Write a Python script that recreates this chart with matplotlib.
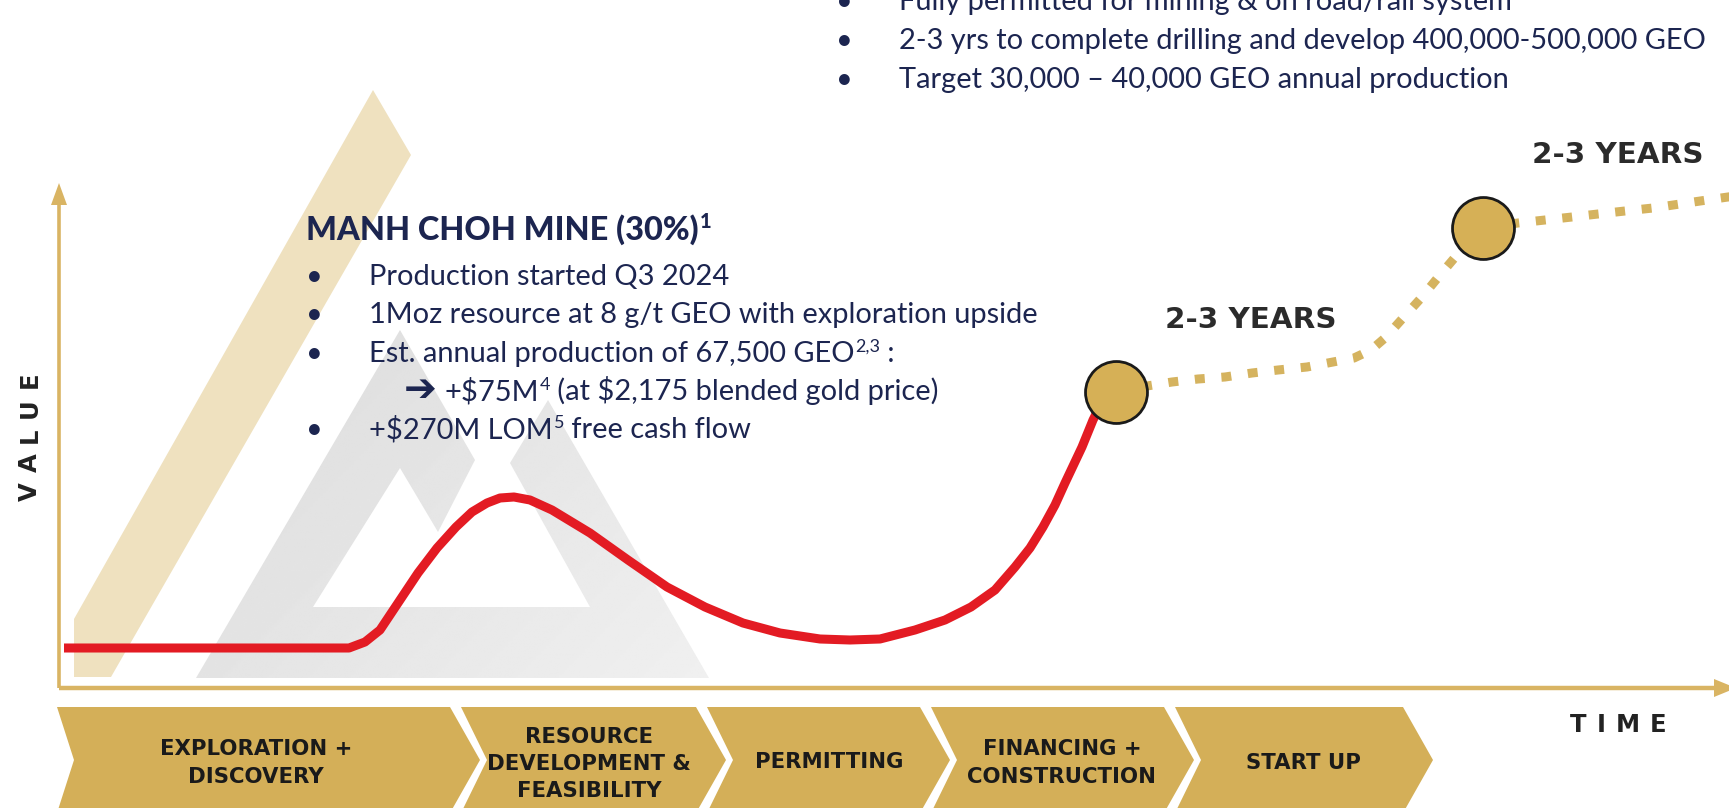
import matplotlib
matplotlib.use("Agg")
import matplotlib.pyplot as plt
import numpy as np
from matplotlib.patches import Polygon
from matplotlib.transforms import IdentityTransform

W, H, DPI = 1729, 808, 100

# ---------------- data (time / value units) ----------------
curve_time = [0.5, 29.0, 30.6, 32.1, 34.1, 35.9, 37.8, 39.7, 41.3, 42.8, 44.1, 45.5,
              47.1, 49.3, 53.1, 56.9, 60.8, 64.6, 68.4, 72.1, 76.1, 79.1, 82.1, 85.6,
              88.6, 91.2, 93.6, 95.6, 97.1, 98.4, 99.6, 100.6, 102.3, 103.4, 104.5]
curve_value = [4.0, 4.0, 4.6, 5.8, 8.8, 11.5, 14.0, 16.1, 17.6, 18.5, 19.0, 19.1,
               18.8, 17.8, 15.5, 12.8, 10.1, 8.1, 6.5, 5.5, 4.9, 4.8, 4.9, 5.8,
               6.8, 8.1, 9.8, 12.1, 14.0, 16.1, 18.3, 20.5, 24.1, 26.8, 29.0]

milestone_time = [105.7, 142.4]
milestone_value = [29.6, 46.0]

path1_time = [105.7, 108.8, 111.3, 113.9, 116.6, 119.3, 121.9, 124.8, 127.4, 129.5,
              131.2, 132.6, 134.4, 136.3, 138.1, 139.8, 142.4]
path1_value = [29.6, 30.2, 30.6, 30.9, 31.1, 31.5, 31.8, 32.1, 32.6, 33.0,
               33.8, 35.0, 37.0, 39.1, 41.3, 43.3, 46.0]
path2_time = [142.4, 145.9, 148.6, 151.3, 153.9, 156.6, 159.4, 162.1, 164.8, 167.6]
path2_value = [46.0, 46.5, 46.8, 47.1, 47.4, 47.7, 48.0, 48.4, 48.8, 49.2]

milestone_labels = ["2-3 YEARS", "2-3 YEARS"]

stage_labels = [["EXPLORATION +", "DISCOVERY"],
                ["RESOURCE", "DEVELOPMENT &", "FEASIBILITY"],
                ["PERMITTING"],
                ["FINANCING +", "CONSTRUCTION"],
                ["START UP"]]

top_bullets = ["Fully permitted for mining & on road/rail system",
               "2-3 yrs to complete drilling and develop 400,000-500,000 GEO",
               "Target 30,000 \u2013 40,000 GEO annual production"]

mine_title = "MANH CHOH MINE (30%)"

# ---------------- styles ----------------
NAVY = "#1C2550"
GOLD = "#D4AF58"
AXC = "#D9B463"
CAL = ["Liberation Sans Narrow", "Lato", "DejaVu Sans"]
GEO = ["DejaVu Sans"]

fig = plt.figure(figsize=(W / DPI, H / DPI), dpi=DPI)
fig.patch.set_facecolor("white")
ax = fig.add_axes([0, 0, 1, 1])
ax.set_xlim(-5.9, 167.0)
ax.set_ylim(-12.0, 68.8)
ax.axis("off")
renderer = fig.canvas.get_renderer()


def P(px, py):
    return ((px - 59) / 10.0, (688 - py) / 10.0)


def poly(pts, **kw):
    p = Polygon([P(*q) for q in pts], closed=True, **kw)
    ax.add_patch(p)
    return p


def txt(px, py, s, size, **kw):
    kw.setdefault("parse_math", False)
    return fig.text(px, H - py, s, fontsize=size, transform=IdentityTransform(), **kw)


def width_of(s, size, **kw):
    t = txt(0, 0, s, size, **kw)
    w = t.get_window_extent(renderer).width
    t.remove()
    return w


def fit(s, target, size0=20.0, **kw):
    return size0 * target / width_of(s, size0, **kw)


def runs(px, py, parts, size, **kw):
    x = px
    for s, sup in parts:
        if sup:
            t = txt(x + 1, py - size * DPI / 72 * 0.36, s, size * 0.62, va="baseline", **kw)
        else:
            t = txt(x, py, s, size, va="baseline", **kw)
        x = t.get_window_extent(renderer).x1
    return x


def tracked(cx, cy, s, size, gap, vertical=False, **kw):
    widths = [width_of(c, size, **kw) for c in s]
    total = sum(widths) + gap * (len(s) - 1)
    pos = -total / 2
    for c, w in zip(s, widths):
        centre = pos + w / 2
        if vertical:
            txt(cx, cy - centre, c, size, rotation=90, rotation_mode="anchor",
                ha="center", va="baseline", **kw)
        else:
            txt(cx + centre, cy, c, size, ha="center", va="baseline", **kw)
        pos += w + gap


# ---------------- background shapes ----------------
poly([(74, 677), (111, 677), (411, 155), (373, 90), (74, 619)],
     facecolor="#EFE1BF", edgecolor="none", zorder=1)
logo = poly([(196, 678), (400, 330), (475, 460), (438, 532), (400, 468), (313, 607),
             (590, 607), (510, 463), (548, 400), (709, 678)],
            facecolor="none", edgecolor="none", zorder=1)
gx = np.linspace(0, 1, 200)
gy = np.linspace(0, 1, 200)
GX, GY = np.meshgrid(gx, gy)
shade = 0.86 + 0.08 * (0.6 * GX + 0.4 * (1 - GY))
x0, y0 = P(196, 678)
x1, y1 = P(709, 330)
im = ax.imshow(shade, cmap="gray", vmin=0, vmax=1, extent=(x0, x1, y0, y1),
               origin="lower", aspect="auto", zorder=1, interpolation="bilinear")
im.set_clip_path(logo)

# ---------------- axes arrows ----------------
ax.plot([0, 0], [0, P(0, 200)[1]], color=AXC, lw=2.6, solid_capstyle="butt", zorder=2)
poly([(59, 183), (51, 205), (67, 205)], facecolor=AXC, edgecolor="none", zorder=2)
ax.plot([0, P(1716, 0)[0]], [0, 0], color=AXC, lw=3.2, solid_capstyle="butt", zorder=2)
poly([(1736, 688), (1714, 679), (1714, 697)], facecolor=AXC, edgecolor="none", zorder=2)

# ---------------- stage chevrons ----------------
chev_left = [57, 461, 707, 931, 1175]
chev_right = [450, 696, 920, 1164, 1403]
chev_notch = [17, 26, 26, 26, 26]
tip = 30
for xl, xr, n in zip(chev_left, chev_right, chev_notch):
    poly([(xl, 707), (xr, 707), (xr + tip, 760), (xr, 813), (xl, 813), (xl + n, 760)],
         facecolor=GOLD, edgecolor="none", zorder=2)

stage_cx = [256, 589, 829, 1062, 1303]
stage_base = [[755, 783], [743, 770, 797], [768], [755, 783], [769]]
chev_fs = fit("EXPLORATION +", 192, family=GEO, fontweight="bold")
for lines, cx, bases in zip(stage_labels, stage_cx, stage_base):
    for line, b in zip(lines, bases):
        txt(cx, b, line, chev_fs, family=GEO, fontweight="bold", color="#1A1A1A",
            ha="center", va="baseline", zorder=6)

# ---------------- value curve & milestones ----------------
ax.plot(curve_time, curve_value, color="#E31B23", lw=6.5, solid_capstyle="butt",
        solid_joinstyle="round", zorder=4)
for pt, pv in ((path1_time, path1_value), (path2_time, path2_value)):
    ax.plot(pt, pv, color="#D5B35F", lw=6.5, linestyle=(0, (1.1, 1.85)),
            dash_capstyle="butt", zorder=3)
ax.scatter(milestone_time, milestone_value, s=1990, c="#D6B056", edgecolors="#1A1A1A",
           linewidths=2.0, zorder=5)

yrs_fs = fit("2-3 YEARS", 171, family=GEO, fontweight="bold")
label_px = [(1251, 328), (1618, 163)]
for lab, (lx, ly) in zip(milestone_labels, label_px):
    txt(lx, ly, lab, yrs_fs, family=GEO, fontweight="bold", color="#2B2B2B",
        ha="center", va="baseline", zorder=6)

# ---------------- axis titles ----------------
ax_fs = 17.5
tracked(37, 436, "VALUE", ax_fs, 10, vertical=True, family=GEO,
        fontweight="bold", color="#222222")
tracked(1618, 732, "TIME", ax_fs, 10, family=GEO,
        fontweight="bold", color="#222222")

# ---------------- text blocks ----------------
body_fs = fit("1Moz resource at 8 g/t GEO with exploration upside", 671, family=CAL)
title_fs = fit(mine_title, 391, family=CAL, fontweight="bold")

for line, b in zip(top_bullets, [10, 49, 88]):
    txt(844, b, "\u2022", body_fs, family=CAL, color=NAVY, ha="center", va="baseline")
    txt(899, b, line, body_fs, family=CAL, color=NAVY, va="baseline")

runs(306, 240, [(mine_title, False), ("1", True)], title_fs, family=CAL,
     fontweight="black", color=NAVY)

for b in [285, 323, 362, 438]:
    txt(314, b, "\u2022", body_fs, family=CAL, color=NAVY, ha="center", va="baseline")
txt(369, 285, "Production started Q3 2024", body_fs, family=CAL, color=NAVY, va="baseline")
txt(369, 323, "1Moz resource at 8 g/t GEO with exploration upside", body_fs, family=CAL,
    color=NAVY, va="baseline")
runs(369, 362, [("Est. annual production of 67,500 GEO", False), ("2,3", True), (" :", False)],
     body_fs, family=CAL, color=NAVY)
txt(404, 401, "\u2794", body_fs * 1.35, family=["DejaVu Sans"], fontweight="bold",
    color=NAVY, va="baseline")
runs(444, 400, [("+$75M", False), ("4", True), (" (at $2,175 blended gold price)", False)],
     body_fs, family=CAL, color=NAVY)
runs(369, 438, [("+$270M LOM", False), ("5", True), (" free cash flow", False)],
     body_fs, family=CAL, color=NAVY)

fig.savefig("out.png", dpi=DPI, facecolor="white")
